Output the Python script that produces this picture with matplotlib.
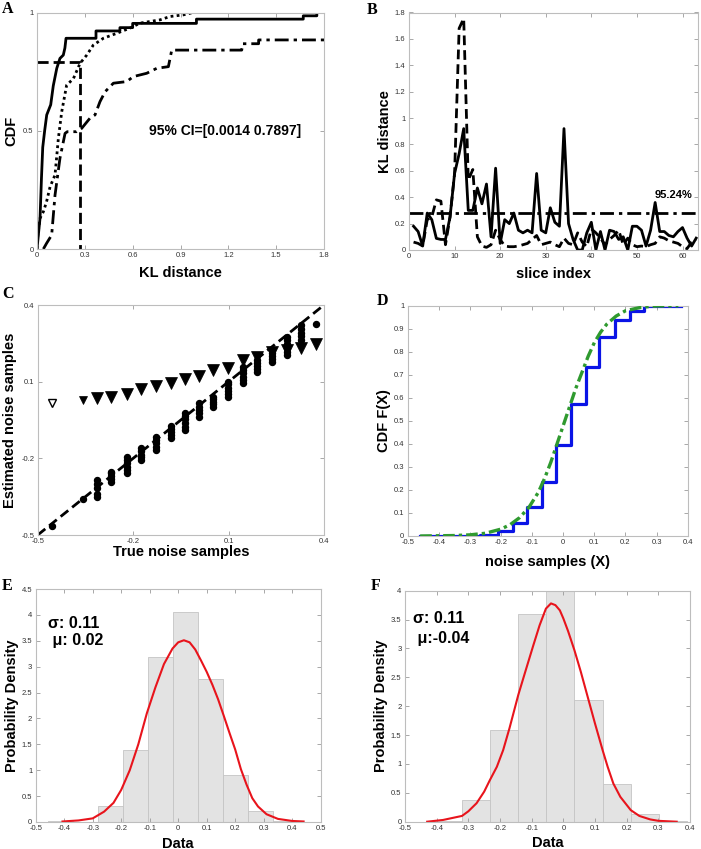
import numpy as np
import matplotlib
matplotlib.use("Agg")
import matplotlib.pyplot as plt
from matplotlib.ticker import FuncFormatter

plt.rcParams['font.family'] = ['Liberation Sans', 'DejaVu Sans']

# ---------------- data ----------------
# Panel A: empirical CDFs of KL distance (curve vertices)
a_solid_x = [0.0, 0.010, 0.019, 0.028, 0.036, 0.048, 0.061, 0.086, 0.102, 0.124, 0.144, 0.165, 0.175, 0.182,
             0.37, 0.37, 0.52, 0.52, 0.60, 0.60, 1.00, 1.00, 1.67, 1.67, 1.755, 1.755]
a_solid_y = [0.0, 0.07, 0.13, 0.30, 0.43, 0.50, 0.567, 0.61, 0.69, 0.764, 0.806, 0.82, 0.85, 0.891,
             0.891, 0.922, 0.922, 0.936, 0.936, 0.954, 0.954, 0.972, 0.972, 0.986, 0.986, 0.997]
a_dot_x = [0.0, 0.005, 0.019, 0.040, 0.060, 0.082, 0.113, 0.134, 0.155, 0.186, 0.228, 0.270, 0.312, 0.353,
           0.416, 0.50, 0.583, 0.646, 0.772, 0.834, 0.918, 0.98, 1.075]
a_dot_y = [0.0, 0.06, 0.13, 0.158, 0.20, 0.263, 0.313, 0.468, 0.58, 0.693, 0.72, 0.785, 0.82, 0.862,
           0.891, 0.912, 0.934, 0.955, 0.969, 0.983, 0.99, 1.0, 1.0]
a_dd_x = [0.04, 0.06, 0.092, 0.113, 0.144, 0.176, 0.19, 0.249, 0.28, 0.332, 0.364, 0.395, 0.427, 0.479,
          0.563, 0.604, 0.688, 0.751, 0.824, 0.845, 1.284, 1.29, 1.39, 1.39, 1.8]
a_dd_y = [0.0, 0.024, 0.059, 0.228, 0.384, 0.489, 0.496, 0.496, 0.51, 0.553, 0.567, 0.623, 0.665, 0.701,
          0.708, 0.729, 0.743, 0.764, 0.771, 0.841, 0.841, 0.868, 0.868, 0.884, 0.884]
a_thr_x = 0.27
a_thr_y = 0.79
a_text = "95% CI=[0.0014 0.7897]"

# Panel B: KL distance per slice
b_slice = list(range(1, 64))
b_solid = [0.18, 0.14, 0.03, 0.28, 0.23, 0.088, 0.08, 0.08, 0.25, 0.58, 0.73, 0.92, 0.30, 0.30, 0.47,
           0.35, 0.50, 0.10, 0.62, 0.05, 0.23, 0.20, 0.28, 0.15, 0.13, 0.15, 0.13, 0.58, 0.15, 0.13,
           0.32, 0.21, 0.18, 0.92, 0.20, 0.08, 0.0, 0.0, 0.13, 0.21, 0.0, 0.14, 0.0, 0.15, 0.14,
           0.08, 0.10, 0.0, 0.18, 0.18, 0.15, 0.03, 0.15, 0.36, 0.14, 0.14, 0.11, 0.10, 0.14, 0.17,
           0.09, 0.03, 0.09]
b_dashed = [0.06, 0.05, 0.03, 0.23, 0.25, 0.38, 0.37, 0.04, 0.25, 0.58, 1.68, 1.755, 0.53, 0.61, 0.10,
            0.03, 0.02, 0.04, 0.15, 0.08, 0.03, 0.025, 0.025, 0.03, 0.04, 0.05, 0.08, 0.11, 0.04, 0.05,
            0.06, 0.04, 0.025, 0.09, 0.05, 0.04, 0.13, 0.06, 0.025, 0.16, 0.13, 0.09, 0.04, 0.08, 0.11,
            0.15, 0.04, 0.09, 0.04, 0.025, 0.03, 0.025, 0.04, 0.05, 0.10, 0.09, 0.07, 0.06, 0.05, 0.025,
            0.01, 0.06, 0.08]
b_threshold = 0.28
b_text = "95.24%"

# Panel C: true vs estimated noise samples
c_true = [-0.454, -0.359, -0.313, -0.270, -0.220, -0.176, -0.128, -0.082, -0.037, 0.008, 0.052, 0.097,
          0.146, 0.190, 0.238, 0.283, 0.328, 0.375]
c_tri = [0.018, 0.028, 0.035, 0.041, 0.050, 0.070, 0.083, 0.096, 0.109, 0.122, 0.146, 0.155,
         0.185, 0.195, 0.217, 0.224, 0.230, 0.246]
c_dots = [[-0.465], [-0.36], [-0.350, -0.338, -0.318, -0.300, -0.285],
          [-0.291, -0.280, -0.268, -0.258, -0.252], [-0.259, -0.246, -0.232, -0.218, -0.205, -0.194],
          [-0.207, -0.196, -0.185, -0.172, -0.161], [-0.167, -0.155, -0.141, -0.128, -0.115],
          [-0.122, -0.110, -0.098, -0.086, -0.074], [-0.089, -0.076, -0.062, -0.048, -0.035, -0.024],
          [-0.037, -0.024, -0.011, 0.002, 0.015], [0.002, 0.012, 0.022, 0.032, 0.041],
          [0.041, 0.053, 0.065, 0.077, 0.089, 0.100], [0.093, 0.106, 0.119, 0.132, 0.145, 0.158],
          [0.139, 0.150, 0.162, 0.174, 0.185], [0.178, 0.190, 0.201, 0.213, 0.224],
          [0.204, 0.218, 0.233, 0.248, 0.262, 0.276], [0.263, 0.278, 0.292, 0.307, 0.322], [0.325]]
c_ref = [-0.5, 0.4]

# Panel D: empirical CDF (steps) and fitted CDF
d_step_x = [-0.46, -0.268, -0.209, -0.160, -0.115, -0.069, -0.023, 0.025, 0.072, 0.116, 0.167, 0.213, 0.258, 0.38]
d_step_y = [0.0, 0.005, 0.02, 0.058, 0.125, 0.235, 0.395, 0.575, 0.735, 0.865, 0.937, 0.977, 1.0, 1.0]
d_fit_x = [-0.46, -0.35, -0.30, -0.25, -0.20, -0.17, -0.14, -0.11, -0.08, -0.06, -0.04, -0.02, 0.0,
           0.02, 0.04, 0.06, 0.08, 0.10, 0.12, 0.14, 0.17, 0.20, 0.25, 0.30, 0.37]
d_fit_y = [0.0, 0.002, 0.005, 0.012, 0.03, 0.05, 0.08, 0.125, 0.19, 0.25, 0.32, 0.40, 0.48,
           0.56, 0.64, 0.71, 0.78, 0.84, 0.885, 0.92, 0.955, 0.978, 0.993, 0.999, 1.0]

# Panel E: histogram + density
e_edges = [-0.4556, -0.368, -0.280, -0.192, -0.105, -0.017, 0.071, 0.158, 0.246, 0.334, 0.421]
e_heights = [0.01, 0.0, 0.30, 1.40, 3.18, 4.05, 2.77, 0.91, 0.22, 0.01]
e_pdf_x = [-0.406, -0.35, -0.30, -0.26, -0.227, -0.20, -0.17, -0.14, -0.11, -0.08, -0.05, -0.02, 0.0,
           0.02, 0.04, 0.06, 0.08, 0.10, 0.12, 0.14, 0.16, 0.18, 0.20, 0.22, 0.24, 0.26, 0.28, 0.31,
           0.35, 0.40, 0.44]
e_pdf_y = [0.01, 0.03, 0.07, 0.20, 0.37, 0.62, 1.0, 1.5, 2.1, 2.6, 3.05, 3.35, 3.47,
           3.51, 3.47, 3.33, 3.12, 2.9, 2.65, 2.37, 2.05, 1.72, 1.40, 1.02, 0.72, 0.46, 0.30, 0.15,
           0.06, 0.02, 0.01]
e_sigma = "σ: 0.11"
e_mu = " μ: 0.02"

# Panel F: histogram + density
f_edges = [-0.41, -0.321, -0.232, -0.142, -0.055, 0.035, 0.124, 0.213, 0.302, 0.391]
f_heights = [0.01, 0.375, 1.59, 3.59, 4.0, 2.1, 0.66, 0.13, 0.01]
f_pdf_x = [-0.43, -0.38, -0.32, -0.30, -0.274, -0.25, -0.232, -0.21, -0.19, -0.17, -0.142, -0.12,
           -0.095, -0.075, -0.055, -0.039, -0.025, -0.011, 0.0, 0.015, 0.035, 0.055, 0.074, 0.10,
           0.124, 0.14, 0.158, 0.18, 0.213, 0.24, 0.274, 0.30, 0.358]
f_pdf_y = [0.0, 0.03, 0.10, 0.18, 0.32, 0.52, 0.72, 0.95, 1.24, 1.62, 2.2, 2.6,
           3.05, 3.4, 3.69, 3.78, 3.75, 3.66, 3.52, 3.3, 2.97, 2.6, 2.22, 1.7,
           1.24, 0.95, 0.66, 0.43, 0.2, 0.1, 0.04, 0.015, 0.0]
f_sigma = "σ: 0.11"
f_mu = " μ:-0.04"

# ---------------- style ----------------
SPINE = '#bdbdbd'
TICKC = '#333333'
LBL = dict(fontsize=10.5, fontweight='bold')
fmt = FuncFormatter(lambda v, p: '0' if abs(v) < 1e-9 else '%g' % round(v, 6))

W, H = 701, 849
fig = plt.figure(figsize=(7.01, 8.49), dpi=100)


def style(ax):
    for s in ax.spines.values():
        s.set_color(SPINE)
        s.set_linewidth(0.8)
    ax.tick_params(direction='in', length=3, width=0.6, color='#9a9a9a', labelsize=5.5,
                   labelcolor=TICKC, top=True, right=True, pad=2.5)
    ax.xaxis.set_major_formatter(fmt)
    ax.yaxis.set_major_formatter(fmt)


def panel_label(x, y, s):
    fig.text(x / W, 1 - y / H, s, fontsize=11.5, fontweight='bold',
             family='Liberation Serif', va='baseline', ha='left')


def rect(l, r, t, b):
    return [l / W, 1 - b / H, (r - l) / W, (b - t) / H]


DASHDOT = (0, (5, 1.8, 1.2, 1.8))
DASH = (0, (3.5, 1.8))

# ---- A ----
axA = fig.add_axes(rect(37, 324, 12.5, 249))
axA.plot(a_solid_x, a_solid_y, color='black', lw=2.0)
axA.plot(a_dot_x, a_dot_y, color='black', lw=2.0, ls=(0, (1, 1.2)))
axA.plot(a_dd_x, a_dd_y, color='black', lw=2.0, ls=DASHDOT)
axA.plot([0, a_thr_x, a_thr_x], [a_thr_y, a_thr_y, 0], color='black', lw=2.0, ls=(0, (4, 1.8)))
axA.text(0.70, 0.5, a_text, fontsize=10, fontweight='bold', va='center', ha='left')
axA.set_xlim(0, 1.8)
axA.set_ylim(0, 1)
axA.set_xticks([0, 0.3, 0.6, 0.9, 1.2, 1.5, 1.8])
axA.set_yticks([0, 0.5, 1])
style(axA)
axA.set_xlabel('KL distance', labelpad=5, **LBL)
axA.set_ylabel('CDF', labelpad=3, **LBL)
panel_label(2, 13, 'A')

# ---- B ----
axB = fig.add_axes(rect(409, 698, 12.5, 250))
axB.plot(b_slice, b_solid, color='black', lw=2.0)
axB.plot(b_slice, b_dashed, color='black', lw=2.0, ls=DASH)
axB.axhline(b_threshold, color='black', lw=2.0, ls=DASHDOT)
axB.text(58.1, 0.42, b_text, fontsize=8, fontweight='bold', ha='center', va='center')
axB.set_xlim(0, 63.4)
axB.set_ylim(0, 1.8)
axB.set_xticks([0, 10, 20, 30, 40, 50, 60])
axB.set_yticks(np.arange(0, 1.81, 0.2))
style(axB)
axB.set_xlabel('slice index', labelpad=5, **LBL)
axB.set_ylabel('KL distance', labelpad=2, **LBL)
panel_label(367, 14, 'B')

# ---- C ----
axC = fig.add_axes(rect(37.7, 324, 305, 535))
axC.plot(c_ref, c_ref, color='black', lw=2.0, ls=DASH, zorder=2)
for i, (xv, tv) in enumerate(zip(c_true, c_tri)):
    axC.plot([xv], [tv], marker='v', ls='none', ms=6 if i < 2 else 8.5,
             mec='black', mfc='white' if i == 0 else 'black', mew=1.0 if i == 0 else 0.5, zorder=3)
for xv, ys in zip(c_true, c_dots):
    axC.plot([xv] * len(ys), ys, 'o', color='black', ms=4.3, ls='none', zorder=3)
axC.set_xlim(-0.5, 0.4)
axC.set_ylim(-0.5, 0.4)
axC.set_xticks([-0.5, -0.2, 0.1, 0.4])
axC.set_yticks([-0.5, -0.2, 0.1, 0.4])
style(axC)
axC.set_xlabel('True noise samples', labelpad=0, **LBL)
axC.set_ylabel('Estimated noise samples', labelpad=3, **LBL)
panel_label(2, 298, 'C')

# ---- D ----
axD = fig.add_axes(rect(407.7, 687.7, 305.7, 536))
axD.plot(d_step_x, d_step_y, color='#0a14e6', lw=2.3, drawstyle='steps-post', zorder=2)
axD.plot(d_fit_x, d_fit_y, color='#2f9a2f', lw=2.4, ls=(0, (3.5, 1.2, 1, 1.2)), zorder=3)
axD.set_xlim(-0.5, 0.4)
axD.set_ylim(0, 1)
axD.set_xticks(np.arange(-0.5, 0.41, 0.1))
axD.set_yticks(np.arange(0, 1.01, 0.1))
style(axD)
axD.set_xlabel('noise samples (X)', labelpad=6, **LBL)
axD.set_ylabel('CDF F(X)', labelpad=2, **LBL)
panel_label(377, 305, 'D')

# ---- E ----
axE = fig.add_axes(rect(35.7, 320.7, 589, 822))
axE.bar(e_edges[:-1], e_heights, width=np.diff(e_edges), align='edge', color='#e3e3e3',
        edgecolor='#c4c4c4', lw=0.6)
axE.plot(e_pdf_x, e_pdf_y, color='#e8141c', lw=1.5)
axE.text(-0.457, 3.84, e_sigma, fontsize=11.5, fontweight='bold', va='center', ha='left')
axE.text(-0.457, 3.50, e_mu, fontsize=11.5, fontweight='bold', va='center', ha='left')
axE.set_xlim(-0.5, 0.5)
axE.set_ylim(0, 4.5)
axE.set_xticks(np.arange(-0.5, 0.51, 0.1))
axE.set_yticks(np.arange(0, 4.51, 0.5))
style(axE)
axE.set_xlabel('Data', labelpad=3, **LBL)
axE.set_ylabel('Probability Density', labelpad=2, **LBL)
panel_label(2, 590, 'E')

# ---- F ----
axF = fig.add_axes(rect(405, 690, 590.7, 821.7))
axF.bar(f_edges[:-1], f_heights, width=np.diff(f_edges), align='edge', color='#e3e3e3',
        edgecolor='#c4c4c4', lw=0.6)
axF.plot(f_pdf_x, f_pdf_y, color='#e8141c', lw=1.5)
axF.text(-0.475, 3.51, f_sigma, fontsize=11.5, fontweight='bold', va='center', ha='left')
axF.text(-0.475, 3.18, f_mu, fontsize=11.5, fontweight='bold', va='center', ha='left')
axF.set_xlim(-0.5, 0.4)
axF.set_ylim(0, 4)
axF.set_xticks(np.arange(-0.5, 0.41, 0.1))
axF.set_yticks(np.arange(0, 4.01, 0.5))
style(axF)
axF.set_xlabel('Data', labelpad=3, **LBL)
axF.set_ylabel('Probability Density', labelpad=2, **LBL)
panel_label(371, 590, 'F')

fig.savefig('out.png', dpi=100)
